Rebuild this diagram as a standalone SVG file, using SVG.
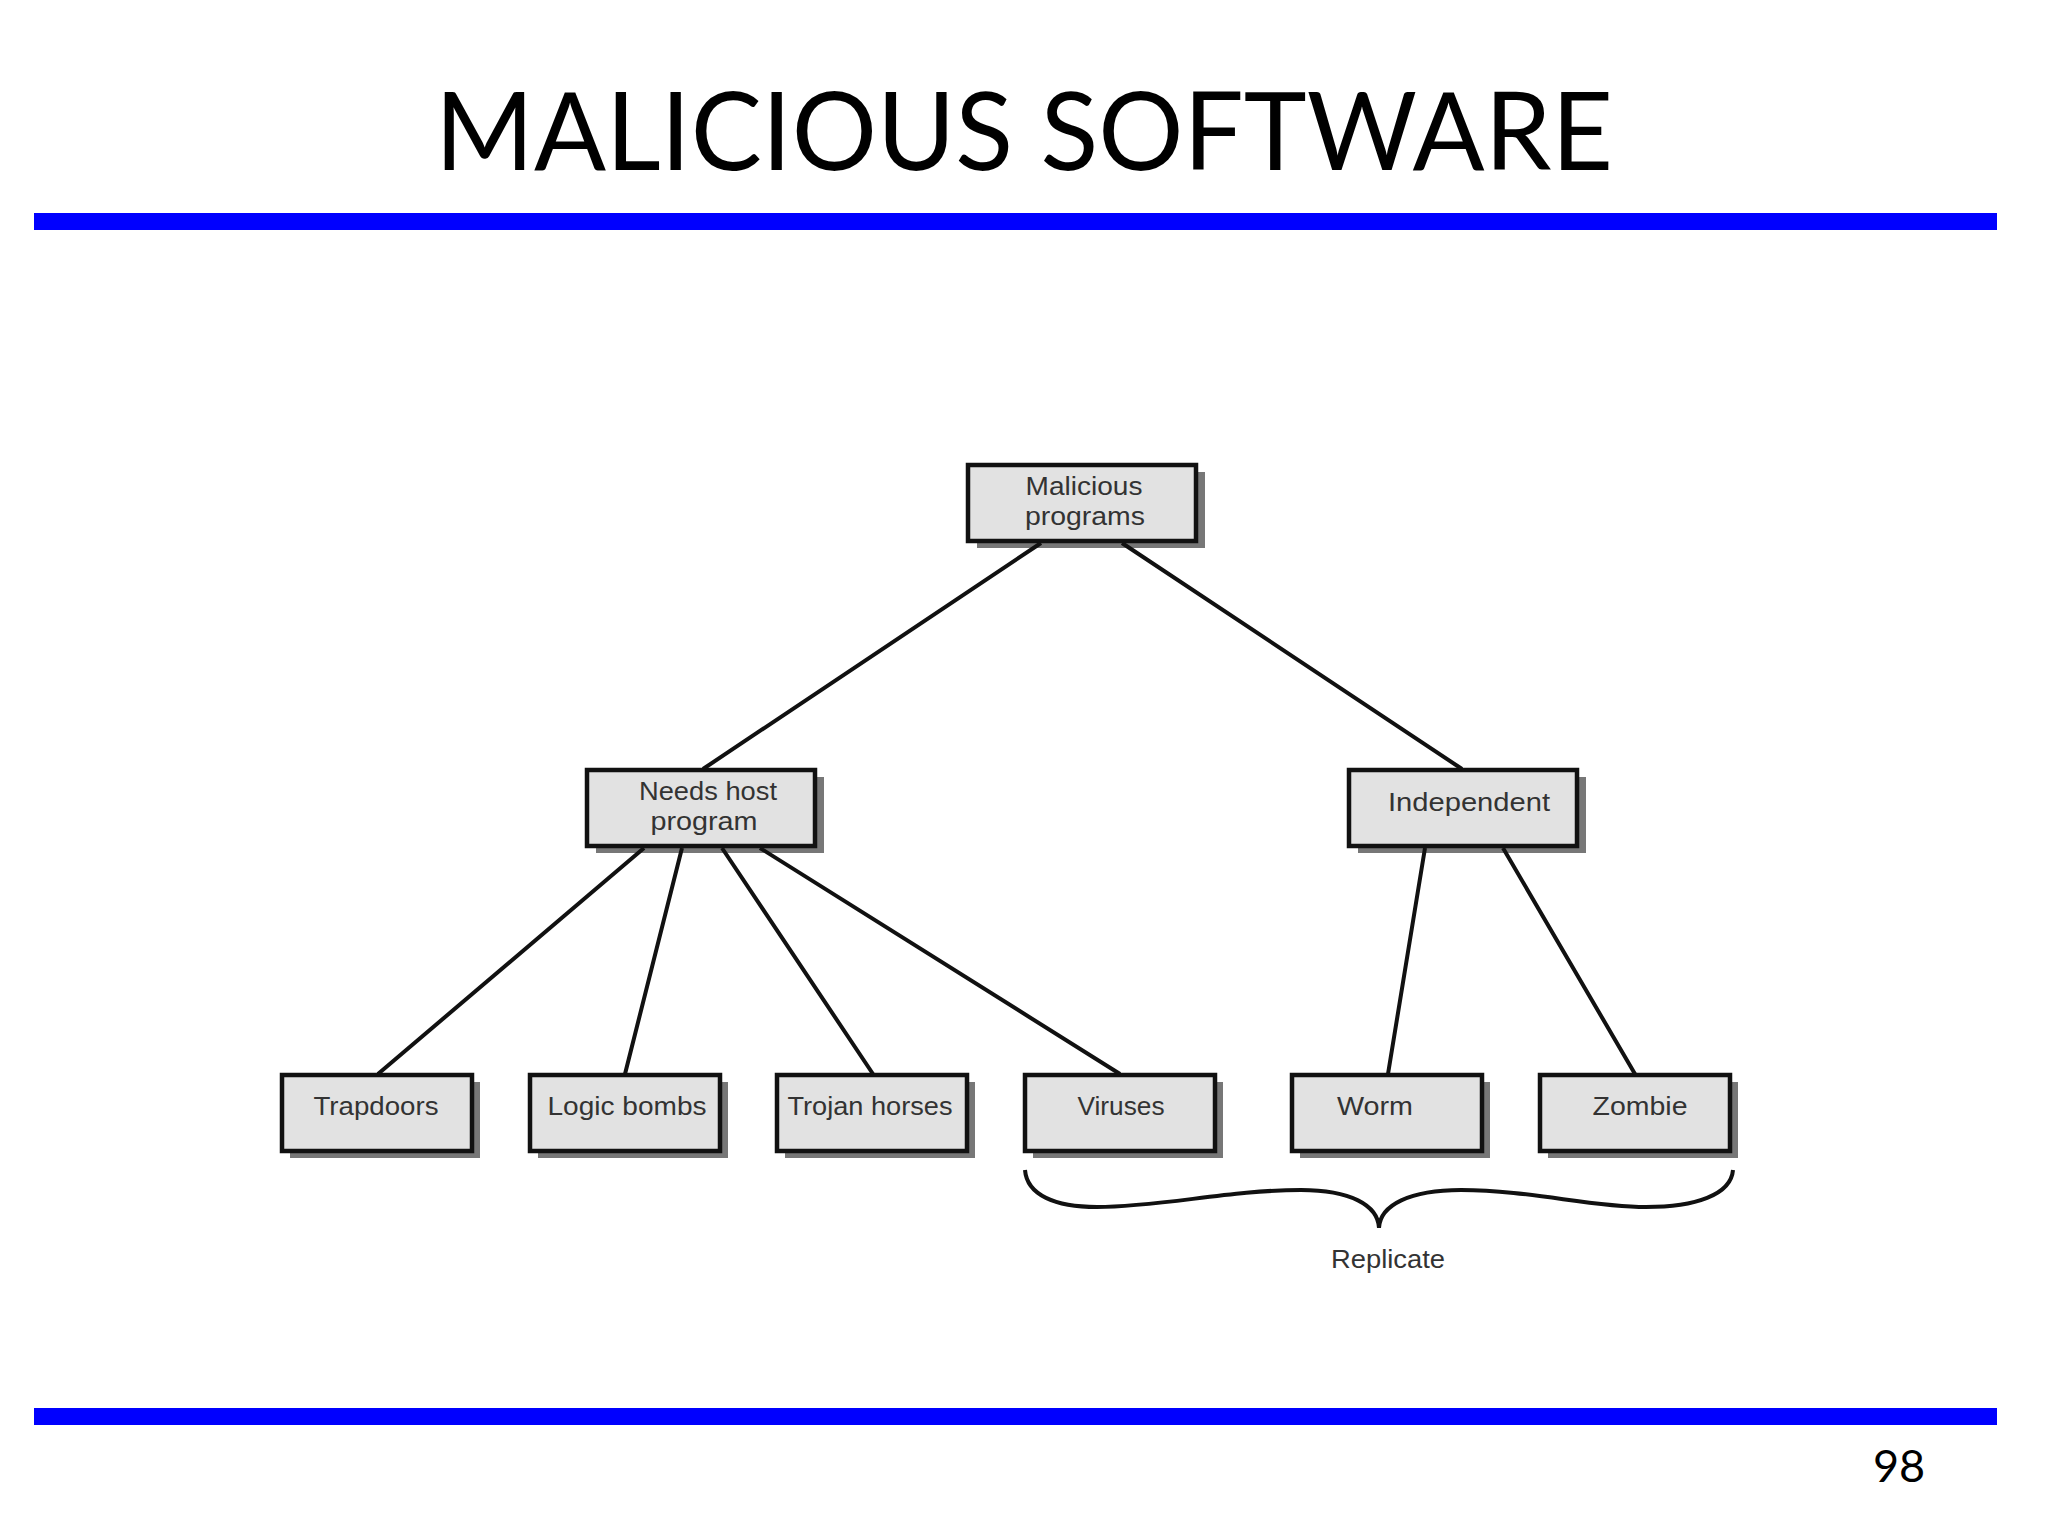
<svg xmlns="http://www.w3.org/2000/svg" width="2048" height="1536" viewBox="0 0 2048 1536">
<style>
.bar{fill:#0000ff}
.box{fill:#e2e2e2;stroke:#111;stroke-width:4.5}
.sh{fill:#777}
.lb{font-family:"Liberation Sans",Arial,sans-serif;font-size:26px;fill:#333;text-anchor:middle}
.ln{stroke:#111;stroke-width:4;fill:none}
.ttl{font-family:Lato,"Open Sans",sans-serif;fill:#000;text-anchor:middle}
</style>
<rect width="2048" height="1536" fill="#fff"/>
<text class="ttl" x="1024" y="170" font-size="108" textLength="1178" lengthAdjust="spacingAndGlyphs">MALICIOUS SOFTWARE</text>
<rect class="bar" x="34" y="213" width="1963" height="17"/>
<rect class="bar" x="34" y="1408" width="1963" height="17"/>
<text class="ttl" x="1899" y="1482" font-size="45">98</text>
<g id="malicious"><rect class="sh" x="977" y="472" width="228" height="76"/><rect class="box" x="968" y="465" width="228" height="76"/><text class="lb" x="1084" y="495" textLength="117" lengthAdjust="spacingAndGlyphs">Malicious</text><text class="lb" x="1085" y="525" textLength="120" lengthAdjust="spacingAndGlyphs">programs</text></g>
<g id="needs"><rect class="sh" x="596" y="777" width="228" height="76"/><rect class="box" x="587" y="770" width="228" height="76"/><text class="lb" x="708" y="800" textLength="138" lengthAdjust="spacingAndGlyphs">Needs host</text><text class="lb" x="704" y="830" textLength="107" lengthAdjust="spacingAndGlyphs">program</text></g>
<g id="independent"><rect class="sh" x="1358" y="777" width="228" height="76"/><rect class="box" x="1349" y="770" width="228" height="76"/><text class="lb" x="1469" y="811" textLength="162" lengthAdjust="spacingAndGlyphs">Independent</text></g>
<g id="trapdoors"><rect class="sh" x="290" y="1082" width="190" height="76"/><rect class="box" x="282" y="1075" width="190" height="76"/><text class="lb" x="376" y="1115" textLength="125" lengthAdjust="spacingAndGlyphs">Trapdoors</text></g>
<g id="logic"><rect class="sh" x="538" y="1082" width="190" height="76"/><rect class="box" x="530" y="1075" width="190" height="76"/><text class="lb" x="627" y="1115" textLength="159" lengthAdjust="spacingAndGlyphs">Logic bombs</text></g>
<g id="trojan"><rect class="sh" x="785" y="1082" width="190" height="76"/><rect class="box" x="777" y="1075" width="190" height="76"/><text class="lb" x="870" y="1115" textLength="165" lengthAdjust="spacingAndGlyphs">Trojan horses</text></g>
<g id="viruses"><rect class="sh" x="1033" y="1082" width="190" height="76"/><rect class="box" x="1025" y="1075" width="190" height="76"/><text class="lb" x="1121" y="1115" textLength="87" lengthAdjust="spacingAndGlyphs">Viruses</text></g>
<g id="worm"><rect class="sh" x="1300" y="1082" width="190" height="76"/><rect class="box" x="1292" y="1075" width="190" height="76"/><text class="lb" x="1375" y="1115" textLength="76" lengthAdjust="spacingAndGlyphs">Worm</text></g>
<g id="zombie"><rect class="sh" x="1548" y="1082" width="190" height="76"/><rect class="box" x="1540" y="1075" width="190" height="76"/><text class="lb" x="1640" y="1115" textLength="95" lengthAdjust="spacingAndGlyphs">Zombie</text></g>
<g id="connectors" class="ln">
<path d="M1041 543L703 769M1122 543L1462 769M644 848L378 1074M682 848L625 1074M722 848L873 1074M760 848L1120 1074M1425 848L1388 1074M1503 848L1635 1074"/>
<path id="brace" d="M1025 1170C1027 1195 1055 1207 1097 1207C1160 1207 1230 1190 1301 1190C1350 1190 1378 1205 1379 1228C1380 1205 1410 1190 1461 1190C1530 1190 1590 1207 1646 1207C1695 1207 1731 1195 1733 1170"/>
</g>
<text class="lb" x="1388" y="1268" textLength="114" lengthAdjust="spacingAndGlyphs">Replicate</text>
</svg>
